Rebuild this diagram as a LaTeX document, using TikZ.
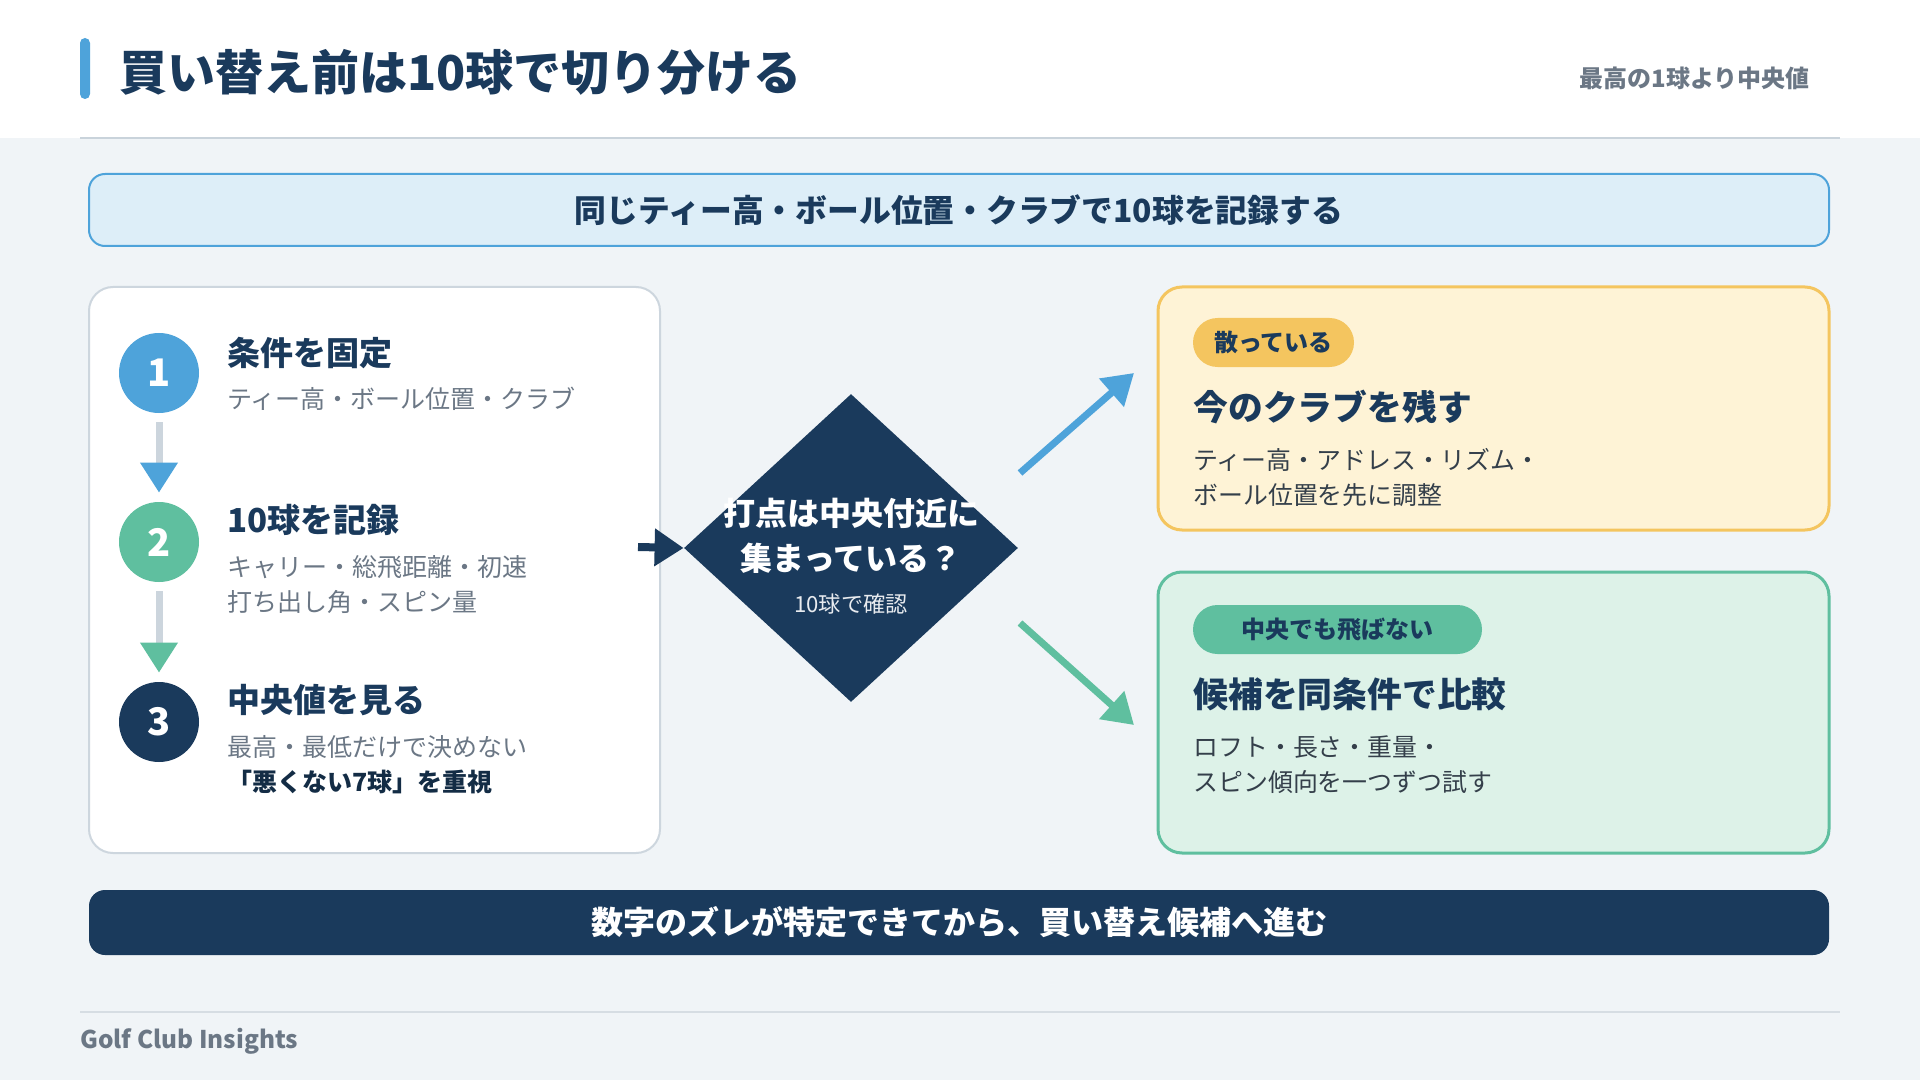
\documentclass[tikz,border=0pt]{standalone}
\usepackage{fontspec}
\setmainfont{Noto Sans CJK JP}
\usetikzlibrary{shapes.geometric,arrows.meta}
\definecolor{navy}{HTML}{1A3A5C}
\definecolor{cblue}{HTML}{4EA3DA}
\definecolor{cgreen}{HTML}{5FBF9F}
\definecolor{cyellow}{HTML}{F4C55F}
\definecolor{bgc}{HTML}{F0F4F7}
\definecolor{sepc}{HTML}{C9D3DB}
\definecolor{footsep}{HTML}{D6DDE3}
\definecolor{graytxt}{HTML}{6B7785}
\definecolor{bodytxt}{HTML}{343F4A}
\definecolor{cardborder}{HTML}{CDD6DE}
\definecolor{bannerfill}{HTML}{DDEEF8}
\definecolor{yfill}{HTML}{FEF3D6}
\definecolor{gfill}{HTML}{DDF2E8}
\definecolor{shaftc}{HTML}{CCD5DD}
\tikzset{
  txt/.style={inner sep=0pt, anchor=west},
  maintitle/.style={txt, text=navy, font=\fontsize{24}{28}\selectfont\bfseries},
  subhead/.style={inner sep=0pt, anchor=east, text=graytxt, font=\fontsize{12}{14}\selectfont\bfseries},
  steptitle/.style={txt, text=navy, font=\fontsize{16.5}{19}\selectfont\bfseries},
  stepsub/.style={txt, text=graytxt, font=\fontsize{12.5}{14}\selectfont},
  stepbold/.style={txt, text=navy!75!black, font=\fontsize{12.5}{14}\selectfont\bfseries},
  cardtitle/.style={txt, text=navy, font=\fontsize{17.4}{20}\selectfont\bfseries},
  cardbody/.style={txt, text=bodytxt, font=\fontsize{12.45}{14}\selectfont},
  pilltext/.style={inner sep=0pt, text=navy, font=\fontsize{12}{14}\selectfont\bfseries},
  circ/.style={circle, minimum size=40pt, inner sep=0pt, text=white, font=\fontsize{19}{21}\selectfont\bfseries},
  boxnode/.style={inner sep=0pt, rectangle},
}
\begin{document}
\begin{tikzpicture}[x=0.5pt,y=-0.5pt]
\useasboundingbox (0,0) rectangle (1920,1080);
\fill[bgc] (0,0) rectangle (1920,1080);
\fill[white] (0,0) rectangle (1920,138);
\draw[sepc, line width=1.2pt] (80,138) -- (1840,138);
\fill[cblue, rounded corners=2.5pt] (80,38) rectangle (90,99);
\node[maintitle] (title) at (119,72) {買い替え前は10球で切り分ける};
\node[subhead] (sub) at (1810,78) {最高の1球より中央値};

% banner
\node[boxnode, draw=cblue, line width=1pt, fill=bannerfill, rounded corners=8pt,
  minimum width=870pt, minimum height=36pt] (banner) at (959,210) {};
\node[inner sep=0pt, text=navy, font=\fontsize{15.9}{18}\selectfont\bfseries] (bannertxt) at (959,210)
  {同じティー高・ボール位置・クラブで10球を記録する};

% left card
\node[boxnode, draw=cardborder, line width=1pt, fill=white, rounded corners=12pt,
  minimum width=285.5pt, minimum height=283pt] (left) at (374.5,570) {};

\node[circ, fill=cblue] (c1) at (159,373) {1};
\node[circ, fill=cgreen] (c2) at (159,542) {2};
\node[circ, fill=navy] (c3) at (159,722) {3};
\draw[shaftc, line width=3.5pt, shorten <=4.5pt, shorten >=4.5pt,
  -{Triangle[length=15pt,width=18pt,color=cblue]}] (c1.south) -- (c2.north);
\draw[shaftc, line width=3.5pt, shorten <=4.5pt, shorten >=4.5pt,
  -{Triangle[length=15pt,width=18pt,color=cgreen]}] (c2.south) -- (c3.north);

\node[steptitle] (s1t) at (227,353) {条件を固定};
\node[stepsub] (s1a) at (227,399) {ティー高・ボール位置・クラブ};
\node[steptitle] (s2t) at (227,520) {10球を記録};
\node[stepsub] (s2a) at (227,567) {キャリー・総飛距離・初速};
\node[stepsub] (s2b) at (227,602) {打ち出し角・スピン量};
\node[steptitle] (s3t) at (227,700) {中央値を見る};
\node[stepsub] (s3a) at (227,747) {最高・最低だけで決めない};
\node[stepbold] (s3b) at (227,782) {「悪くない7球」を重視};

% diamond
\node[diamond, fill=navy, inner sep=0pt, minimum width=167pt, minimum height=154pt] (dia) at (851,548) {};
\node[inner sep=0pt, text=white, font=\fontsize{16}{18}\selectfont\bfseries] (d1) at (851,513) {打点は中央付近に};
\node[inner sep=0pt, text=white, font=\fontsize{16}{18}\selectfont\bfseries] (d2) at (851,558) {集まっている？};
\node[inner sep=0pt, text=white!90!navy, font=\fontsize{11.1}{12}\selectfont] (d3) at (851,604) {10球で確認};

\coordinate (ain) at (638,547);
\draw[navy, line width=4pt, -{Triangle[length=14.5pt,width=18pt]}] (ain) -- (dia.west);

% right cards
\node[boxnode, draw=cyellow, line width=1.5pt, fill=yfill, rounded corners=12pt,
  minimum width=335.5pt, minimum height=121.5pt] (ycard) at (1493.5,408.5) {};
\node[boxnode, fill=cyellow, rounded corners=12.25pt, minimum width=80.5pt, minimum height=24.5pt] (ypill) at (1273.5,342.5) {};
\node[pilltext] (ypt) at (1273.5,342.5) {散っている};
\node[cardtitle] (yt) at (1193,407) {今のクラブを残す};
\node[cardbody] (yb1) at (1193,460) {ティー高・アドレス・リズム・};
\node[cardbody] (yb2) at (1193,495) {ボール位置を先に調整};

\node[boxnode, draw=cgreen, line width=1.5pt, fill=gfill, rounded corners=12pt,
  minimum width=335.5pt, minimum height=140.5pt] (gcard) at (1493.5,712.5) {};
\node[boxnode, fill=cgreen, rounded corners=12.25pt, minimum width=144.5pt, minimum height=24.5pt] (gpill) at (1337.5,629.5) {};
\node[pilltext] (gpt) at (1337.5,629.5) {中央でも飛ばない};
\node[cardtitle] (gt) at (1193,694) {候補を同条件で比較};
\node[cardbody] (gb1) at (1193,747) {ロフト・長さ・重量・};
\node[cardbody] (gb2) at (1193,782) {スピン傾向を一つずつ試す};

\coordinate (bs) at (1020,473);
\coordinate (be) at (1134,373);
\coordinate (gs) at (1020,623);
\coordinate (ge) at (1134,725);
\draw[cblue, line width=3.5pt, -{Triangle[length=15pt,width=18pt]}] (bs) -- (be);
\draw[cgreen, line width=3.5pt, -{Triangle[length=15pt,width=18pt]}] (gs) -- (ge);

% bottom bar
\node[boxnode, fill=navy, rounded corners=8pt, minimum width=870pt, minimum height=32.5pt] (bar) at (959,922.5) {};
\node[inner sep=0pt, text=white, font=\fontsize{16}{19}\selectfont\bfseries] (bartxt) at (959,922.5)
  {数字のズレが特定できてから、買い替え候補へ進む};

% footer
\draw[footsep, line width=1pt] (80,1012) -- (1840,1012);
\node[txt, text=graytxt, font=\fontsize{12.2}{14}\selectfont\bfseries] (foot) at (80,1041) {Golf Club Insights};
\end{tikzpicture}
\end{document}
